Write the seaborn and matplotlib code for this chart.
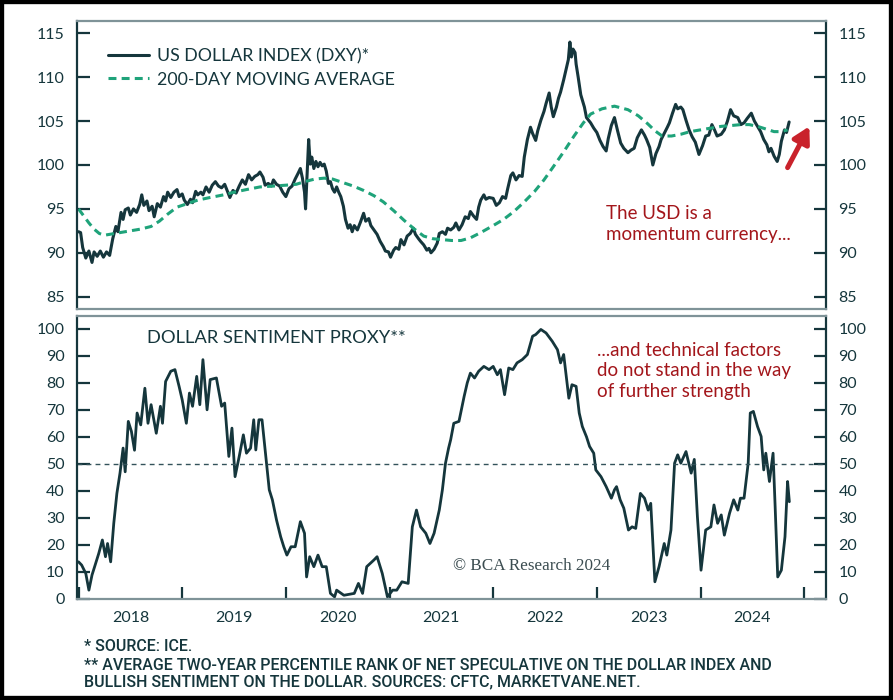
"""Recreate the BCA chart: US dollar index vs 200-day MA, and the dollar sentiment proxy."""

import matplotlib

matplotlib.use("Agg")
import matplotlib.pyplot as plt
from matplotlib.patches import Rectangle
import pandas as pd
import seaborn as sns

# ---- data (decimal years) ----
dxy_t = [
    2018.00, 2018.02, 2018.04, 2018.07, 2018.10, 2018.13, 2018.15, 2018.18, 2018.21, 2018.24,
    2018.27, 2018.30, 2018.33, 2018.36, 2018.38, 2018.41, 2018.43, 2018.45, 2018.48, 2018.50,
    2018.53, 2018.56, 2018.59, 2018.61, 2018.63, 2018.66, 2018.68, 2018.71, 2018.73, 2018.76,
    2018.79, 2018.82, 2018.84, 2018.86, 2018.89, 2018.92, 2018.95, 2018.97, 2019.00, 2019.02,
    2019.05, 2019.08, 2019.10, 2019.13, 2019.15, 2019.18, 2019.20, 2019.23, 2019.26, 2019.29,
    2019.32, 2019.35, 2019.38, 2019.41, 2019.44, 2019.46, 2019.49, 2019.52, 2019.55, 2019.58,
    2019.61, 2019.64, 2019.67, 2019.70, 2019.73, 2019.75, 2019.78, 2019.80, 2019.83, 2019.86,
    2019.88, 2019.91, 2019.94, 2019.97, 2020.00, 2020.03, 2020.06, 2020.09, 2020.12, 2020.14,
    2020.16, 2020.18, 2020.19, 2020.205, 2020.22, 2020.235, 2020.25, 2020.27, 2020.29, 2020.31,
    2020.33, 2020.35, 2020.37, 2020.39, 2020.41, 2020.43, 2020.45, 2020.47, 2020.49, 2020.51,
    2020.53, 2020.555, 2020.575, 2020.60, 2020.62, 2020.64, 2020.66, 2020.69, 2020.72, 2020.75,
    2020.77, 2020.80, 2020.82, 2020.85, 2020.88, 2020.91, 2020.94, 2020.96, 2020.99, 2021.01,
    2021.04, 2021.06, 2021.09, 2021.11, 2021.14, 2021.17, 2021.20, 2021.23, 2021.25, 2021.28,
    2021.30, 2021.33, 2021.36, 2021.38, 2021.40, 2021.43, 2021.46, 2021.48, 2021.51, 2021.54,
    2021.56, 2021.59, 2021.62, 2021.64, 2021.67, 2021.70, 2021.73, 2021.76, 2021.78, 2021.81,
    2021.84, 2021.86, 2021.88, 2021.91, 2021.93, 2021.96, 2022.00, 2022.03, 2022.06, 2022.09,
    2022.12, 2022.14, 2022.17, 2022.19, 2022.22, 2022.25, 2022.28, 2022.30, 2022.33, 2022.36,
    2022.38, 2022.41, 2022.43, 2022.46, 2022.49, 2022.51, 2022.54, 2022.56, 2022.58, 2022.61,
    2022.63, 2022.65, 2022.68, 2022.71, 2022.725, 2022.74, 2022.755, 2022.77, 2022.79, 2022.80,
    2022.82, 2022.845, 2022.87, 2022.88, 2022.90, 2022.92, 2022.94, 2022.97, 2023.00, 2023.03,
    2023.06, 2023.09, 2023.11, 2023.14, 2023.17, 2023.20, 2023.23, 2023.26, 2023.30, 2023.33,
    2023.36, 2023.39, 2023.43, 2023.46, 2023.48, 2023.51, 2023.54, 2023.57, 2023.60, 2023.62,
    2023.65, 2023.68, 2023.70, 2023.73, 2023.76, 2023.78, 2023.81, 2023.83, 2023.86, 2023.89,
    2023.92, 2023.95, 2023.985, 2024.02, 2024.05, 2024.08, 2024.11, 2024.135, 2024.16, 2024.20,
    2024.23, 2024.26, 2024.29, 2024.32, 2024.36, 2024.39, 2024.42, 2024.45, 2024.49, 2024.52,
    2024.55, 2024.58, 2024.61, 2024.64, 2024.66, 2024.68, 2024.71, 2024.74, 2024.76, 2024.78,
    2024.81, 2024.83, 2024.855,
]
dxy_v = [
    92.4, 92.3, 90.6, 89.4, 90.2, 88.9, 90.1, 89.6, 90.2, 89.5,
    90.1, 89.7, 91.6, 93.0, 92.4, 94.6, 93.8, 94.9, 95.1, 94.3,
    95.0, 94.6, 95.5, 96.6, 95.4, 95.9, 94.8, 95.3, 94.1, 95.6,
    95.2, 96.4, 95.9, 96.9, 96.3, 96.9, 97.2, 96.4, 96.7, 96.0,
    95.5, 96.1, 95.7, 97.0, 96.6, 96.9, 96.6, 97.5, 96.9, 97.7,
    98.1, 97.6, 97.4, 97.8, 96.9, 96.3, 97.1, 96.8, 97.6, 98.3,
    97.8, 98.9, 98.3, 98.7, 98.9, 99.2, 98.6, 97.7, 97.9, 97.6,
    98.3, 97.8, 97.6, 96.9, 96.4, 97.3, 97.6, 98.4, 99.1, 99.6,
    98.5, 96.9, 95.0, 99.0, 102.9, 100.1, 100.9, 99.6, 100.4, 99.8,
    100.3, 99.9, 100.1, 99.3, 97.9, 98.1, 97.3, 96.9, 97.5, 96.9,
    96.4, 95.3, 93.8, 92.8, 93.2, 92.4, 93.1, 92.6, 93.5, 94.5,
    93.6, 93.9, 93.1, 92.6, 92.1, 91.3, 90.7, 90.2, 90.1, 89.5,
    90.3, 90.6, 90.4, 91.5, 90.9, 91.9, 92.2, 92.8, 92.1, 91.6,
    91.3, 90.9, 90.3, 90.5, 90.0, 90.4, 91.1, 92.2, 92.4, 92.1,
    92.8, 92.6, 92.9, 93.4, 92.6, 93.2, 94.1, 93.9, 94.7, 94.2,
    93.8, 95.2, 96.0, 96.6, 96.1, 96.3, 96.2, 95.4, 95.7, 96.4,
    96.2, 97.3, 98.8, 99.1, 98.3, 98.8, 98.7, 100.9, 102.9, 104.3,
    103.6, 102.8, 103.9, 105.1, 106.1, 107.0, 108.2, 106.6, 105.5, 106.6,
    107.6, 108.3, 109.7, 111.2, 112.0, 114.0, 112.3, 113.2, 112.8, 111.5,
    110.0, 108.0, 107.0, 106.6, 105.4, 105.1, 104.8, 104.2, 103.7, 102.8,
    102.1, 101.6, 103.0, 104.5, 105.4, 103.9, 102.5, 101.9, 101.4, 101.7,
    101.9, 103.1, 104.0, 103.4, 102.9, 102.0, 100.0, 101.3, 102.1, 102.9,
    103.6, 104.3, 104.8, 105.9, 106.9, 106.4, 106.6, 106.3, 105.1, 104.0,
    103.2, 102.6, 101.2, 102.2, 103.3, 103.4, 104.6, 104.0, 103.3, 103.5,
    104.0, 105.0, 106.3, 105.6, 105.4, 104.6, 104.8, 105.3, 105.9, 105.0,
    104.4, 103.8, 102.9, 102.3, 101.5, 101.9, 101.0, 100.4, 101.2, 102.7,
    104.0, 103.7, 104.9,
]

ma_t = [
    2018.00, 2018.05, 2018.10, 2018.15, 2018.20, 2018.25, 2018.30, 2018.40, 2018.50, 2018.60,
    2018.70, 2018.78, 2018.86, 2018.95, 2019.05, 2019.15, 2019.27, 2019.40, 2019.50, 2019.62,
    2019.75, 2019.88, 2020.00, 2020.10, 2020.18, 2020.28, 2020.37, 2020.45, 2020.55, 2020.65,
    2020.75, 2020.85, 2020.94, 2021.04, 2021.14, 2021.24, 2021.33, 2021.42, 2021.51, 2021.60,
    2021.69, 2021.78, 2021.88, 2022.00, 2022.10, 2022.20, 2022.30, 2022.40, 2022.49, 2022.58,
    2022.68, 2022.78, 2022.87, 2022.94, 2023.05, 2023.17, 2023.30, 2023.40, 2023.49, 2023.56,
    2023.63, 2023.72, 2023.81, 2023.90, 2024.00, 2024.10, 2024.20, 2024.30, 2024.39, 2024.47,
    2024.55, 2024.63, 2024.71, 2024.78, 2024.84,
]
ma_v = [
    95.0, 94.2, 93.4, 92.7, 92.2, 92.0, 92.1, 92.3, 92.5, 92.7,
    93.0, 93.6, 94.4, 95.2, 95.6, 96.0, 96.3, 96.6, 96.9, 97.2,
    97.5, 97.6, 97.7, 97.8, 98.1, 98.4, 98.5, 98.4, 98.0, 97.6,
    97.1, 96.5, 95.8, 94.8, 93.7, 92.7, 91.9, 91.6, 91.5, 91.4,
    91.4, 91.7, 92.3, 93.1, 93.8, 94.7, 95.8, 97.0, 98.3, 99.8,
    101.5, 103.3, 104.8, 105.8, 106.4, 106.7, 106.3, 105.6, 104.7, 103.9,
    103.3, 103.3, 103.5, 103.8, 104.0, 104.2, 104.4, 104.5, 104.6, 104.6,
    104.4, 104.1, 103.8, 103.8, 104.0,
]

sent_t = [
    2018.00, 2018.03, 2018.07, 2018.10, 2018.13, 2018.16, 2018.195, 2018.23, 2018.26, 2018.28,
    2018.31, 2018.34, 2018.37, 2018.40, 2018.43, 2018.45, 2018.48, 2018.51, 2018.54, 2018.565,
    2018.60, 2018.64, 2018.67, 2018.70, 2018.75, 2018.79, 2018.81, 2018.84, 2018.89, 2018.93,
    2018.97, 2019.00, 2019.04, 2019.07, 2019.10, 2019.14, 2019.17, 2019.20, 2019.24, 2019.27,
    2019.33, 2019.38, 2019.41, 2019.45, 2019.48, 2019.51, 2019.55, 2019.59, 2019.62, 2019.66,
    2019.69, 2019.71, 2019.74, 2019.77, 2019.81, 2019.84, 2019.87, 2019.91, 2019.95, 2019.98,
    2020.01, 2020.05, 2020.09, 2020.14, 2020.18, 2020.20, 2020.23, 2020.27, 2020.31, 2020.35,
    2020.39, 2020.43, 2020.47, 2020.49, 2020.56, 2020.66, 2020.70, 2020.74, 2020.78, 2020.85,
    2020.88, 2020.93, 2020.98, 2021.03, 2021.07, 2021.12, 2021.18, 2021.22, 2021.26, 2021.30,
    2021.35, 2021.39, 2021.43, 2021.48, 2021.51, 2021.54, 2021.57, 2021.59, 2021.62, 2021.67,
    2021.72, 2021.75, 2021.78, 2021.82, 2021.86, 2021.91, 2021.96, 2022.00, 2022.04, 2022.07,
    2022.11, 2022.15, 2022.19, 2022.23, 2022.28, 2022.33, 2022.38, 2022.41, 2022.46, 2022.51,
    2022.57, 2022.62, 2022.65, 2022.68, 2022.73, 2022.76, 2022.80, 2022.83, 2022.86, 2022.90,
    2022.93, 2022.97, 2022.99, 2023.04, 2023.09, 2023.14, 2023.17, 2023.19, 2023.225, 2023.26,
    2023.305, 2023.34, 2023.375, 2023.42, 2023.46, 2023.495, 2023.52, 2023.56, 2023.60, 2023.65,
    2023.675, 2023.715, 2023.75, 2023.78, 2023.81, 2023.86, 2023.91, 2023.94, 2023.97, 2024.005,
    2024.05, 2024.10, 2024.13, 2024.165, 2024.20, 2024.23, 2024.28, 2024.32, 2024.36, 2024.385,
    2024.42, 2024.46, 2024.48, 2024.51, 2024.55, 2024.585, 2024.61, 2024.63, 2024.665, 2024.70,
    2024.72, 2024.745, 2024.78, 2024.815, 2024.84, 2024.857,
]
sent_v = [
    13.6, 12.4, 9.3, 3.1, 8.7, 12.4, 16.7, 21.7, 15.5, 20.4,
    13.6, 27.9, 39.0, 46.5, 55.8, 47.0, 65.7, 62.0, 55.0, 68.8,
    64.4, 78.0, 65.0, 71.9, 61.3, 71.3, 65.0, 80.5, 84.3, 84.9,
    78.7, 73.7, 65.0, 76.2, 71.3, 82.4, 71.9, 88.6, 70.0, 81.2,
    81.8, 71.3, 72.5, 52.7, 63.2, 45.2, 52.7, 60.7, 53.9, 55.8,
    66.3, 55.1, 66.3, 66.3, 51.4, 40.3, 36.6, 29.1, 22.9, 19.2,
    16.1, 19.2, 19.2, 28.5, 24.2, 8.0, 15.5, 11.8, 16.1, 11.8,
    11.8, 1.9, 0.6, 3.1, 1.2, 1.9, 5.6, 1.9, 11.8, 14.3,
    15.5, 9.3, 0.6, 3.1, 3.1, 6.2, 5.6, 26.6, 32.8, 26.6,
    24.2, 20.4, 24.2, 32.8, 40.3, 50.2, 55.8, 58.9, 65.0, 65.7,
    75.0, 80.0, 83.6, 81.8, 84.3, 86.1, 84.9, 86.1, 83.0, 84.9,
    75.6, 85.5, 84.9, 87.4, 88.6, 90.5, 97.3, 97.9, 99.8, 98.5,
    95.4, 92.3, 87.4, 90.5, 74.3, 79.3, 78.7, 68.8, 63.8, 60.0,
    56.4, 53.9, 47.7, 45.2, 41.5, 37.2, 40.3, 41.5, 36.6, 33.5,
    25.4, 26.6, 26.0, 39.0, 37.2, 32.8, 35.3, 6.2, 11.8, 20.4,
    16.1, 25.4, 50.2, 53.3, 50.2, 54.5, 46.5, 51.6, 30.4, 10.5,
    25.4, 26.6, 34.7, 27.9, 31.0, 23.5, 31.6, 36.6, 32.8, 37.2,
    37.2, 50.2, 68.8, 69.4, 63.8, 60.1, 47.7, 53.9, 43.4, 53.9,
    34.1, 8.0, 10.5, 22.9, 43.4, 35.9,
]

year_starts = [2018, 2019, 2020, 2021, 2022, 2023, 2024, 2025]
year_mids = [2018.5, 2019.5, 2020.5, 2021.5, 2022.5, 2023.5, 2024.5]
year_labels = ["2018", "2019", "2020", "2021", "2022", "2023", "2024"]
dxy_ticks = [85, 90, 95, 100, 105, 110, 115]
sent_ticks = [0, 10, 20, 30, 40, 50, 60, 70, 80, 90, 100]

DARK = "#15363c"
GREEN = "#1fa37a"
RED = "#a3161b"
ARROW = "#c9222b"
GREY = "#7f9398"

sns.set_theme(style="white")
plt.rcParams["font.family"] = ["Lato", "DejaVu Sans"]

dxy_df = pd.DataFrame({"t": dxy_t, "v": dxy_v})
ma_df = pd.DataFrame({"t": ma_t, "v": ma_v})
sent_df = pd.DataFrame({"t": sent_t, "v": sent_v})

fig = plt.figure(figsize=(8.93, 7.0), dpi=100)
ax1 = fig.add_axes([0.0862, 0.5586, 0.8387, 0.4114])
ax2 = fig.add_axes([0.0862, 0.145, 0.8387, 0.4036])

XLIM = (2017.985, 2025.21)

# --- top panel ---
sns.lineplot(data=dxy_df, x="t", y="v", ax=ax1, color=DARK, lw=2.2,
             label="US DOLLAR INDEX (DXY)*")
sns.lineplot(data=ma_df, x="t", y="v", ax=ax1, color=GREEN, lw=2.2,
             dashes=False, label="200-DAY MOVING AVERAGE")
ax1.lines[1].set_dashes((2.6, 1.7))
ax1.set_xlim(*XLIM)
ax1.set_ylim(83.6, 116.4)
ax1.set_yticks(dxy_ticks)
ax1.set_xticks([])
leg = ax1.legend(loc="upper left", bbox_to_anchor=(0.041, 0.905), frameon=False,
                 handlelength=2.35, handletextpad=0.45, labelspacing=0.4,
                 borderpad=0, borderaxespad=0, fontsize=12.8)
for txt in leg.get_texts():
    txt.set_color(DARK)
ax1.text(2023.09, 93.3, "The USD is a\nmomentum currency...", color=RED, fontsize=13.5,
         ha="left", va="center", linespacing=1.25)
ax1.annotate("", xy=(2025.05, 104.4), xytext=(2024.84, 99.7),
             arrowprops=dict(arrowstyle="-|>,head_length=0.8,head_width=0.45",
                             lw=3.6, color=ARROW, shrinkA=0, shrinkB=0))

# --- bottom panel ---
sns.lineplot(data=sent_df, x="t", y="v", ax=ax2, color=DARK, lw=2.0)
ax2.axhline(50, color="#33525a", lw=1.0, ls=(0, (3.5, 3)))
ax2.set_xlim(*XLIM)
ax2.set_ylim(0, 104.8)
ax2.set_yticks(sent_ticks)
ax2.set_xticks(year_starts)
ax2.set_xticklabels([])
ax2.set_xticks(year_mids, minor=True)
ax2.set_xticklabels(year_labels, minor=True)
ax2.tick_params(axis="x", which="major", direction="in", length=9, width=1.6,
                color=DARK, bottom=True)
ax2.tick_params(axis="x", which="minor", length=0, pad=9, labelsize=11.5,
                labelcolor=DARK)
ax2.text(2018.66, 96.5, "DOLLAR SENTIMENT PROXY**", color=DARK, fontsize=13.2,
         ha="left", va="center")
ax2.text(2023.0, 84.4, "...and technical factors\ndo not stand in the way\nof further strength",
         color=RED, fontsize=13.5, ha="left", va="center", linespacing=1.28)
ax2.text(2021.61, 12, "\u00a9 BCA Research 2024", color="#3b4c50", fontsize=12.3,
         family=["Liberation Serif", "DejaVu Serif"], ha="left", va="center")

for ax in (ax1, ax2):
    ax.set_xlabel("")
    ax.set_ylabel("")
    ax.tick_params(axis="y", direction="in", length=9, width=1.6, color=DARK,
                   left=True, right=True, labelleft=True, labelright=True,
                   labelsize=11.5, labelcolor=DARK, pad=9)
    ax.spines["left"].set_color(DARK)
    ax.spines["right"].set_color(DARK)
    ax.spines["top"].set_color(GREY)
    ax.spines["bottom"].set_color(GREY)
    for s in ax.spines.values():
        s.set_linewidth(1.6)
        s.set_visible(True)

# footnotes
foot = ["* SOURCE: ICE.",
        "** AVERAGE TWO-YEAR PERCENTILE RANK OF NET SPECULATIVE ON THE DOLLAR INDEX AND",
        "BULLISH SENTIMENT ON THE DOLLAR. SOURCES: CFTC, MARKETVANE.NET."]
for txt, yy in zip(foot, [0.0771, 0.05, 0.0257]):
    fig.text(0.094, yy, txt, color=DARK, fontsize=11.5, ha="left", va="center",
             family=["Roboto", "DejaVu Sans"], weight="medium")

fig.patches.append(Rectangle((0, 0), 1, 1, transform=fig.transFigure, fill=False,
                             edgecolor="black", lw=6, zorder=10))

fig.savefig("out.png", dpi=100)
